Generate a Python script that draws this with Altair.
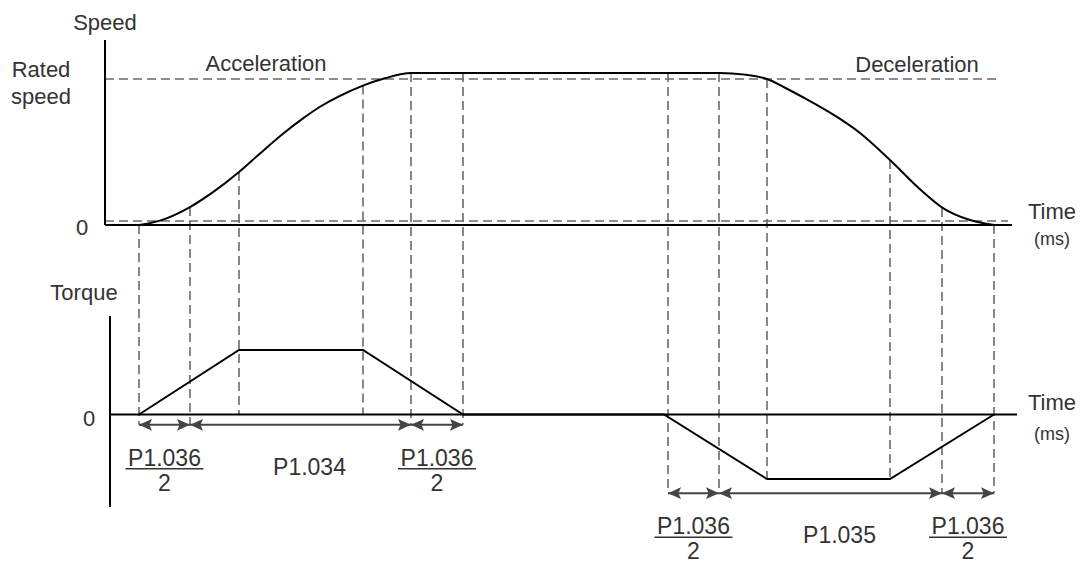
import altair as alt
import pandas as pd

# ---------------- data (diagram units) ----------------
# time in diagram units (ms-like), speed as fraction of rated speed, torque as fraction of max torque
speed_t = [0, 21, 51, 74, 100, 121, 144, 164, 181, 201, 224, 246, 272,
           580, 606, 628, 646, 664, 698, 721, 751, 781, 804, 831, 855]
speed_v = [0.0, 0.03, 0.123, 0.225, 0.363, 0.49, 0.625, 0.73, 0.81, 0.885, 0.955, 1.005, 1.041,
           1.041, 1.03, 1.0, 0.94, 0.875, 0.74, 0.63, 0.445, 0.245, 0.116, 0.034, 0.0]

torque_t = [0, 100, 224, 324, 525, 628, 751, 855]
torque_v = [0, 1, 1, 0, 0, -1, -1, 0]

event_t = [0, 51, 100, 224, 272, 324, 529, 580, 628, 751, 803, 855]
event_speed = [0.0, 0.123, 0.363, 0.955, 1.041, 1.041, 1.041, 1.041, 1.0, 0.445, 0.116, 0.0]
event_torque = [-0.16, -0.16, 0, 0, -0.16, -0.16, -1.22, -1.22, -1, -1, -1.22, -1.22]

arrow_from = [0, 51, 272, 529, 580, 803]
arrow_to = [51, 272, 324, 580, 803, 855]
arrow_torque = [-0.16, -0.16, -0.16, -1.22, -1.22, -1.22]
arrow_num = ["P1.036", "P1.034", "P1.036", "P1.036", "P1.035", "P1.036"]
arrow_den = ["2", "", "2", "2", "", "2"]

rated_speed = 1.0
creep_speed = 0.027

# ---------------- layout ----------------
W, H = 1068, 557
T0, TK = -1.2979, 0.44178  # torque -> shared vertical units
FONT = "Liberation Sans"
TXT = "#333333"
DASH = "#6a6a6a"

xs = alt.Scale(domain=[-131, 937], nice=False, zero=False)
ys = alt.Scale(domain=[-2.3288, 1.4863], nice=False, zero=False)


def X(f):
    return alt.X(f, type="quantitative", scale=xs, axis=None)


def Y(f):
    return alt.Y(f, type="quantitative", scale=ys, axis=None)


dummy = pd.DataFrame({"d": [0]})

speed_df = pd.DataFrame({"t": speed_t, "speed": speed_v})
torque_df = pd.DataFrame({"t": torque_t, "torque": torque_v})
event_df = pd.DataFrame({"t": event_t, "top": event_speed, "bottom": event_torque})
arrow_df = pd.DataFrame({"a": arrow_from, "b": arrow_to, "lvl": arrow_torque,
                         "num": arrow_num, "den": arrow_den})

layers = []


def hline(x1, x2, y, dash=None, color="black", width=2):
    kw = dict(color=color, strokeWidth=width)
    if dash:
        kw["strokeDash"] = dash
    return alt.Chart(dummy).mark_rule(**kw).encode(
        x=alt.X(datum=x1, type="quantitative", scale=xs, axis=None),
        x2=alt.X2(datum=x2),
        y=alt.Y(datum=y, type="quantitative", scale=ys, axis=None),
    )


def vline(x, y1, y2, color="black", width=2):
    return alt.Chart(dummy).mark_rule(color=color, strokeWidth=width).encode(
        x=alt.X(datum=x, type="quantitative", scale=xs, axis=None),
        y=alt.Y(datum=y1, type="quantitative", scale=ys, axis=None),
        y2=alt.Y2(datum=y2),
    )

# dashed reference lines
layers.append(hline(-34, 861, rated_speed, dash=[9, 5], color=DASH, width=1.6))
layers.append(hline(-34, 869, creep_speed, dash=[9, 5], color=DASH, width=1.6))

# dashed event lines
layers.append(
    alt.Chart(event_df).transform_calculate(yb=f"{T0} + {TK}*datum.bottom")
    .mark_rule(color=DASH, strokeWidth=1.6, strokeDash=[9, 5])
    .encode(x=X("t"), y=Y("top"), y2=alt.Y2("yb:Q"))
)

# axes
layers.append(vline(-34, 0, 1.267))
layers.append(hline(-34, 873, 0))
layers.append(vline(-29, T0 + TK * 1.527, T0 + TK * -1.434))
layers.append(hline(-29, 878, T0))

# speed curve
layers.append(
    alt.Chart(speed_df).mark_line(color="black", strokeWidth=2, interpolate="monotone")
    .encode(x=X("t"), y=Y("speed"))
)
# torque profile
layers.append(
    alt.Chart(torque_df).transform_calculate(ys=f"{T0} + {TK}*datum.torque")
    .mark_line(color="black", strokeWidth=2)
    .encode(x=X("t"), y=Y("ys"))
)

# arrows
arrow_base = alt.Chart(arrow_df).transform_calculate(
    ya=f"{T0} + {TK}*datum.lvl", mid="(datum.a + datum.b)/2")
ARROW = "#444444"
layers.append(arrow_base.mark_rule(color=ARROW, strokeWidth=2).encode(
    x=X("a"), x2=alt.X2("b"), y=Y("ya")))
layers.append(arrow_base.mark_point(
    shape="M-1,0L1,-0.9L0.6,0L1,0.9Z", filled=True, opacity=1, size=169,
    color=ARROW, xOffset=6.5).encode(x=X("a"), y=Y("ya")))
layers.append(arrow_base.mark_point(
    shape="M1,0L-1,-0.9L-0.6,0L-1,0.9Z", filled=True, opacity=1, size=169,
    color=ARROW, xOffset=-6.5).encode(x=X("b"), y=Y("ya")))

# arrow labels
frac = arrow_base.transform_filter("datum.den != ''")
single = arrow_base.transform_filter("datum.den == ''")
layers.append(frac.mark_text(font=FONT, fontSize=23, color=TXT, dy=34).encode(
    x=X("mid"), y=Y("ya"), text="num:N"))
layers.append(frac.mark_rule(color=TXT, strokeWidth=1.5, xOffset=-39, x2Offset=39, yOffset=44).encode(
    x=X("mid"), x2=alt.X2("mid"), y=Y("ya")))
layers.append(frac.mark_text(font=FONT, fontSize=23, color=TXT, dy=59).encode(
    x=X("mid"), y=Y("ya"), text="den:N"))
layers.append(single.mark_text(font=FONT, fontSize=23, color=TXT, dy=43, dx=9).encode(
    x=X("mid"), y=Y("ya"), text="num:N"))

# free text labels (page pixel centres)
labels = ["Speed", "Rated", "speed", "Acceleration", "Deceleration", "0", "Time", "(ms)",
          "Torque", "0", "Time", "(ms)"]
label_pos = [(105, 23, 22), (41, 70, 22), (41, 97, 22), (266, 64, 22), (917, 65, 22),
             (82, 228, 22), (1052, 212, 22), (1052, 240, 18),
             (84, 293, 22), (89, 419, 22), (1052, 403, 22), (1052, 435, 18)]
for txt, (px, py, fs) in zip(labels, label_pos):
    layers.append(
        alt.Chart(dummy).mark_text(text=txt, font=FONT, fontSize=fs, color=TXT,
                                   align="center", baseline="middle")
        .encode(x=alt.value(px - 8), y=alt.value(py - 8))
    )

chart = alt.layer(*layers).properties(
    width=W, height=H, autosize=alt.AutoSizeParams(type="none"), padding=0
).configure_view(stroke=None)

chart.save("out.html", embed_options={"renderer": "svg", "actions": False})
